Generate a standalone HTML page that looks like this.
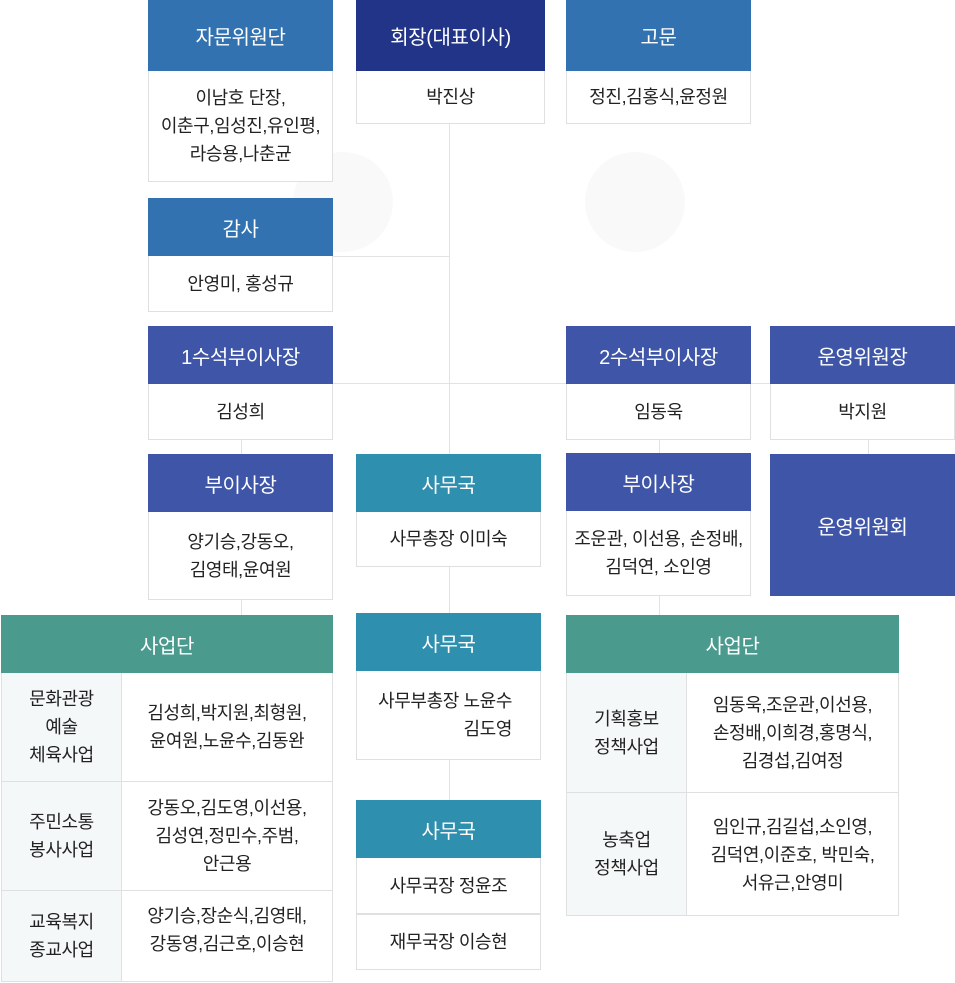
<!DOCTYPE html>
<html><head><meta charset="utf-8">
<style>
*{margin:0;padding:0;box-sizing:border-box}
body{width:955px;height:983px;background:#fff;position:relative;overflow:hidden;font-family:"Liberation Sans","Noto Sans CJK KR",sans-serif;color:#222}
.l{position:absolute;background:#e2e2e2}
.h{position:absolute;color:#fff;font-size:20px;display:flex;align-items:center;justify-content:center;letter-spacing:-0.4px}
.b{position:absolute;background:#fff;border:1px solid #e0e0e0;border-top:none;font-size:18px;line-height:28px;display:flex;align-items:center;justify-content:center;text-align:center;letter-spacing:-0.4px;white-space:nowrap}
.c1{background:#3272b0}.c2{background:#213488}.c3{background:#3f56a8}.c4{background:#2f8fae}.c5{background:#4a9a8e}
.g{background:#f5f8f8}
.wm{position:absolute;border-radius:50%;background:#f9f9f9}
</style></head><body>
<div class="wm" style="left:293px;top:152px;width:100px;height:100px"></div>
<div class="wm" style="left:585px;top:152px;width:100px;height:100px"></div>
<div class="l" style="left:449px;top:124px;width:1px;height:676px"></div>
<div class="l" style="left:333px;top:256px;width:116px;height:1px"></div>
<div class="l" style="left:333px;top:383px;width:622px;height:1px"></div>
<div class="l" style="left:659px;top:440px;width:1px;height:14px"></div>
<div class="l" style="left:659px;top:596px;width:1px;height:19px"></div>
<div class="l" style="left:241px;top:440px;width:1px;height:14px"></div>
<div class="l" style="left:241px;top:600px;width:1px;height:15px"></div>
<div class="l" style="left:868px;top:440px;width:1px;height:14px"></div>

<div class="h c1" style="left:148px;top:0;width:185px;height:71px">자문위원단</div>
<div class="b" style="left:148px;top:71px;width:185px;height:111px">이남호 단장,<br>이춘구,임성진,유인평,<br>라승용,나춘균</div>
<div class="h c2" style="left:356px;top:0;width:189px;height:71px">회장(대표이사)</div>
<div class="b" style="left:356px;top:71px;width:189px;height:53px">박진상</div>
<div class="h c1" style="left:566px;top:0;width:185px;height:71px">고문</div>
<div class="b" style="left:566px;top:71px;width:185px;height:53px">정진,김홍식,윤정원</div>

<div class="h c1" style="left:148px;top:198px;width:185px;height:58px">감사</div>
<div class="b" style="left:148px;top:256px;width:185px;height:56px">안영미, 홍성규</div>

<div class="h c3" style="left:148px;top:326px;width:185px;height:58px">1수석부이사장</div>
<div class="b" style="left:148px;top:384px;width:185px;height:56px">김성희</div>
<div class="h c3" style="left:566px;top:326px;width:185px;height:58px">2수석부이사장</div>
<div class="b" style="left:566px;top:384px;width:185px;height:56px">임동욱</div>
<div class="h c3" style="left:770px;top:326px;width:185px;height:58px">운영위원장</div>
<div class="b" style="left:770px;top:384px;width:185px;height:56px">박지원</div>

<div class="h c3" style="left:148px;top:454px;width:185px;height:58px">부이사장</div>
<div class="b" style="left:148px;top:512px;width:185px;height:88px">양기승,강동오,<br>김영태,윤여원</div>
<div class="h c4" style="left:356px;top:454px;width:185px;height:58px">사무국</div>
<div class="b" style="left:356px;top:512px;width:185px;height:55px">사무총장 이미숙</div>
<div class="h c3" style="left:566px;top:453px;width:185px;height:58px">부이사장</div>
<div class="b" style="left:566px;top:511px;width:185px;height:85px">조운관, 이선용, 손정배,<br>김덕연, 소인영</div>
<div class="h c3" style="left:770px;top:454px;width:185px;height:142px">운영위원회</div>

<div class="h c5" style="left:1px;top:615px;width:332px;height:58px">사업단</div>
<div class="b g" style="left:1px;top:673px;width:121px;height:109px">문화관광<br>예술<br>체육사업</div>
<div class="b" style="left:121px;top:673px;width:212px;height:109px">김성희,박지원,최형원,<br>윤여원,노윤수,김동완</div>
<div class="b g" style="left:1px;top:782px;width:121px;height:109px">주민소통<br>봉사사업</div>
<div class="b" style="left:121px;top:782px;width:212px;height:109px;align-items:flex-start;padding-top:12px">강동오,김도영,이선용,<br>김성연,정민수,주범,<br>안근용</div>
<div class="b g" style="left:1px;top:891px;width:121px;height:91px">교육복지<br>종교사업</div>
<div class="b" style="left:121px;top:891px;width:212px;height:91px;align-items:flex-start;padding-top:11px">양기승,장순식,김영태,<br>강동영,김근호,이승현</div>

<div class="h c4" style="left:356px;top:613px;width:185px;height:58px">사무국</div>
<div class="b" style="left:356px;top:671px;width:185px;height:89px;text-align:right;padding-right:28px;justify-content:flex-end">사무부총장 노윤수<br>김도영</div>
<div class="h c4" style="left:356px;top:800px;width:185px;height:58px">사무국</div>
<div class="b" style="left:356px;top:858px;width:185px;height:56px">사무국장 정윤조</div>
<div class="b" style="left:356px;top:914px;width:185px;height:56px;border-top:1px solid #e0e0e0">재무국장 이승현</div>

<div class="h c5" style="left:566px;top:615px;width:333px;height:58px">사업단</div>
<div class="b g" style="left:566px;top:673px;width:121px;height:120px">기획홍보<br>정책사업</div>
<div class="b" style="left:686px;top:673px;width:213px;height:120px">임동욱,조운관,이선용,<br>손정배,이희경,홍명식,<br>김경섭,김여정</div>
<div class="b g" style="left:566px;top:792px;width:121px;height:124px;border-top:1px solid #e0e0e0">농축업<br>정책사업</div>
<div class="b" style="left:686px;top:792px;width:213px;height:124px;border-top:1px solid #e0e0e0;align-items:flex-start;padding-top:20px">임인규,김길섭,소인영,<br>김덕연,이준호, 박민숙,<br>서유근,안영미</div>
</body></html>
